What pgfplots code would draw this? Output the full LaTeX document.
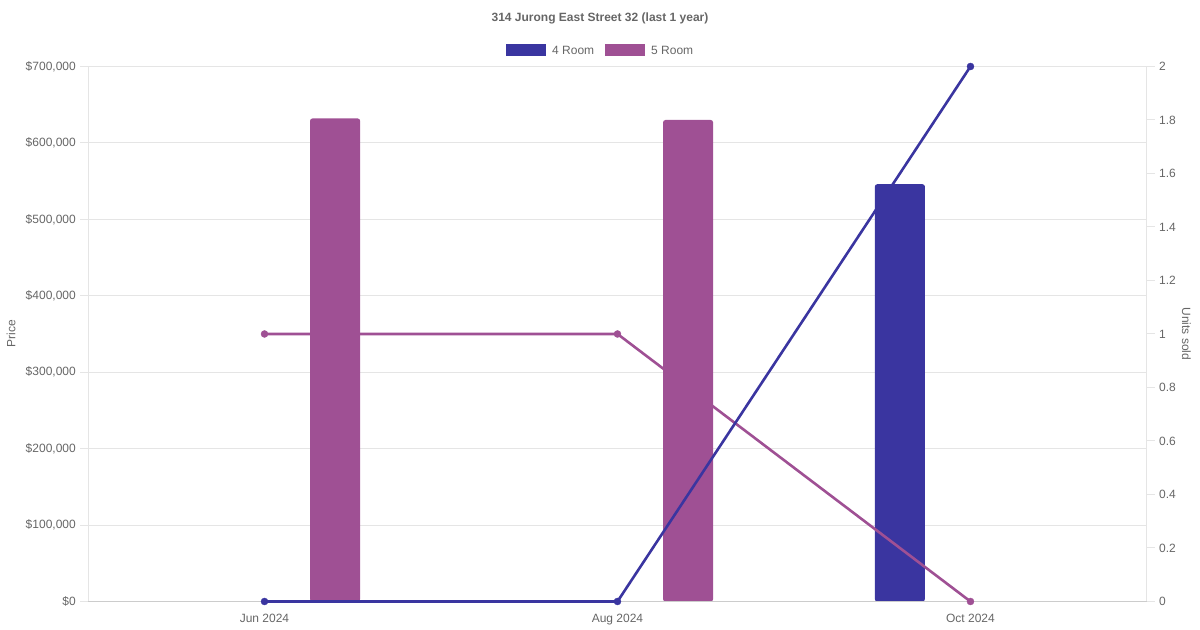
\documentclass[border=0pt]{standalone}
\usepackage{fontspec}
\setmainfont{Liberation Sans}
\usepackage{pgfplots}
\pgfplotsset{compat=1.18}
\definecolor{fourroom}{RGB}{58,53,160}
\definecolor{fiveroom}{RGB}{159,80,148}
\definecolor{txt}{RGB}{102,102,102}
\definecolor{gridc}{RGB}{229,229,229}
\definecolor{axisc}{RGB}{204,204,204}
\begin{document}
\fontsize{12bp}{14bp}\selectfont
\begin{tikzpicture}[x=1bp,y=1bp]
\useasboundingbox (0,0) rectangle (1200,630);
\node[txt, font=\bfseries, anchor=center] at (600,612) {314 Jurong East Street 32 (last 1 year)};
% legend
\fill[fourroom] (506,574) rectangle (546,586);
\node[txt, anchor=west, inner sep=0pt] at (552,580) {4 Room};
\fill[fiveroom] (605,574) rectangle (645,586);
\node[txt, anchor=west, inner sep=0pt] at (651,580) {5 Room};
\begin{axis}[
  at={(88bp,28.5bp)}, anchor=south west,
  scale only axis, width=1059bp, height=535bp,
  xmin=-0.5, xmax=2.5, ymin=0, ymax=700000,
  clip=false,
  xtick={0,1,2}, xticklabels={Jun 2024, Aug 2024, Oct 2024},
  ytick={0,100000,200000,300000,400000,500000,600000,700000},
  ytick pos=left,
  scaled y ticks=false,
  yticklabel style={/pgf/number format/fixed, /pgf/number format/1000 sep={,}, /pgf/number format/assume math mode=true, txt, font=\fontsize{12bp}{14bp}\selectfont},
  yticklabel={\$\pgfmathprintnumber{\tick}},
  xticklabel style={txt, font=\fontsize{12bp}{14bp}\selectfont},
  ymajorgrids, grid style={gridc, line width=1bp},
  xtick style={draw=none},
  ytick style={draw=gridc, line width=1bp},
  tick align=outside, major tick length=8bp,
  axis line style={draw=none},
  ylabel={Price}, ylabel style={txt, font=\fontsize{12bp}{14bp}\selectfont, yshift=2bp},
]
\addplot[ybar, bar width=0.142, bar shift=-0.2, fill=fourroom, draw=none, rounded corners=2.5bp] coordinates {(2,546000)};
\addplot[ybar, bar width=0.142, bar shift=0.2, fill=fiveroom, draw=none, rounded corners=2.5bp] coordinates {(0,632000) (1,630000)};
\draw[gridc, line width=1bp] (axis cs:-0.5,0) -- (axis cs:-0.5,700000);
\draw[gridc, line width=1bp] (axis cs:2.5,0) -- (axis cs:2.5,700000);
\draw[axisc, line width=1bp] (axis cs:-0.5,0) -- (axis cs:2.5,0);
\end{axis}
\begin{axis}[
  at={(88bp,28.5bp)}, anchor=south west,
  scale only axis, width=1059bp, height=535bp,
  xmin=-0.5, xmax=2.5, ymin=0, ymax=2,
  clip=false,
  axis x line=none,
  axis y line*=right,
  axis line style={draw=none},
  ytick={0,0.2,0.4,0.6,0.8,1,1.2,1.4,1.6,1.8,2},
  yticklabels={0,0.2,0.4,0.6,0.8,1,1.2,1.4,1.6,1.8,2},
  yticklabel style={txt, font=\fontsize{12bp}{14bp}\selectfont},
  ytick style={draw=gridc, line width=1bp},
  tick align=outside, major tick length=8bp,
  ylabel={Units sold}, ylabel style={txt, font=\fontsize{12bp}{14bp}\selectfont, rotate=180, yshift=-2bp},
]
\addplot[fiveroom, line width=2.6bp, mark=*, mark size=3.5bp, mark options={fill=fiveroom, draw=fiveroom, line width=0.4bp, solid}] coordinates {(0,1) (1,1) (2,0)};
\addplot[fourroom, line width=2.6bp, mark=*, mark size=3.5bp, mark options={fill=fourroom, draw=fourroom, line width=0.4bp, solid}] coordinates {(0,0) (1,0) (2,2)};
\end{axis}
\end{tikzpicture}
\end{document}
